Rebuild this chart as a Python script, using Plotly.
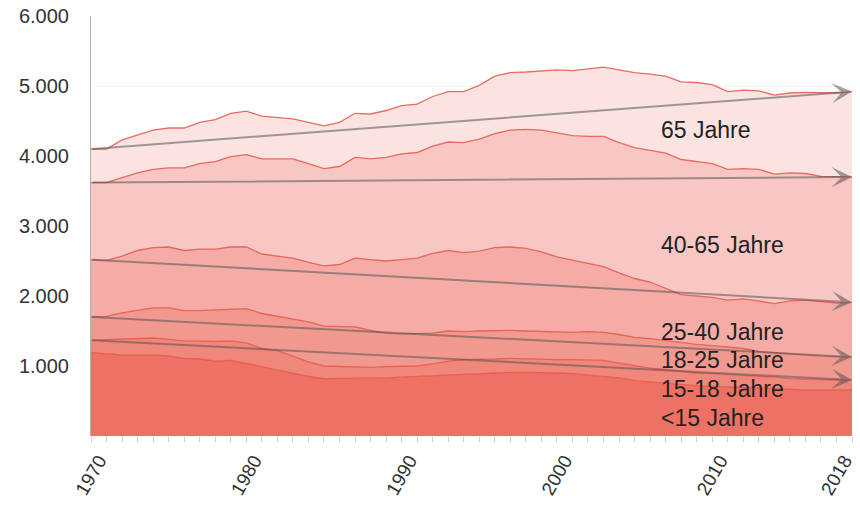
import plotly.graph_objects as go

# Years shown on the x axis (area runs to the right edge)
years = list(range(1970, 2020))

# Cumulative totals (stack tops) per age group
cum_u15 = [1190, 1170, 1160, 1160, 1160, 1140, 1110, 1100, 1070, 1080,
           1040, 990, 940, 890, 850, 820, 820, 820, 820, 830,
           840, 850, 860, 870, 890, 890, 900, 910, 910, 910,
           900, 890, 870, 860, 830, 790, 770, 750, 730, 720,
           710, 700, 690, 680, 670, 670, 660, 660, 660, 660]
cum_15_18 = [1370, 1380, 1380, 1400, 1400, 1380, 1360, 1360, 1350, 1360,
             1330, 1250, 1220, 1140, 1060, 1000, 990, 990, 980, 990,
             990, 1000, 1030, 1070, 1090, 1090, 1100, 1110, 1100, 1100,
             1090, 1090, 1090, 1080, 1040, 1000, 970, 950, 920, 900,
             890, 880, 860, 850, 840, 820, 810, 800, 800, 800]
cum_18_25 = [1700, 1710, 1760, 1800, 1830, 1830, 1790, 1790, 1800, 1820,
             1820, 1750, 1710, 1680, 1630, 1570, 1570, 1560, 1510, 1470,
             1460, 1460, 1470, 1500, 1490, 1500, 1510, 1510, 1500, 1490,
             1480, 1480, 1490, 1480, 1450, 1410, 1390, 1360, 1330, 1310,
             1290, 1270, 1250, 1210, 1190, 1170, 1160, 1140, 1130, 1130]
cum_25_40 = [2520, 2510, 2570, 2650, 2690, 2700, 2650, 2670, 2670, 2700,
             2700, 2600, 2570, 2540, 2480, 2430, 2450, 2540, 2520, 2500,
             2520, 2540, 2610, 2650, 2620, 2640, 2690, 2700, 2680, 2630,
             2560, 2510, 2470, 2420, 2330, 2250, 2200, 2110, 2020, 2000,
             1980, 1940, 1960, 1930, 1890, 1930, 1940, 1920, 1900, 1910]
cum_40_65 = [3620, 3620, 3690, 3760, 3810, 3830, 3830, 3890, 3920, 3990,
             4020, 3960, 3960, 3960, 3890, 3820, 3850, 3980, 3960, 3980,
             4030, 4050, 4140, 4200, 4190, 4240, 4320, 4370, 4380, 4370,
             4330, 4290, 4280, 4280, 4190, 4120, 4080, 4040, 3950, 3920,
             3890, 3810, 3820, 3810, 3740, 3760, 3750, 3710, 3700, 3700]
cum_65plus = [4100, 4100, 4230, 4300, 4370, 4400, 4400, 4480, 4520, 4610,
              4640, 4570, 4550, 4530, 4480, 4430, 4480, 4610, 4600, 4650,
              4720, 4740, 4850, 4920, 4920, 5010, 5140, 5190, 5200, 5220,
              5230, 5220, 5250, 5270, 5230, 5190, 5170, 5140, 5060, 5050,
              5020, 4920, 4940, 4930, 4870, 4900, 4910, 4900, 4900, 4920]

group_names = ["<15 Jahre", "15-18 Jahre", "18-25 Jahre", "25-40 Jahre", "40-65 Jahre", "65 Jahre"]
group_series = [cum_u15, cum_15_18, cum_18_25, cum_25_40, cum_40_65, cum_65plus]
fill_colors = ["#EE7263", "#F0877B", "#F2998F", "#F5ACA6", "#F8C7C4", "#FBE3E1"]
label_y = [262, 676, 1080, 1487, 2730, 4372]

y_tickvals = [1000, 2000, 3000, 4000, 5000, 6000]
y_ticktext = ["1.000", "2.000", "3.000", "4.000", "5.000", "6.000"]
x_tickvals = [1970, 1980, 1990, 2000, 2010, 2018]
x_ticktext = ["1970", "1980", "1990", "2000", "2010", "2018"]

fig = go.Figure()
for i, (name, vals, col) in enumerate(zip(group_names, group_series, fill_colors)):
    fig.add_trace(go.Scatter(
        x=years, y=vals, name=name, mode="lines",
        line=dict(color="rgba(230,85,72,0.85)", width=1.3),
        fill="tozeroy" if i == 0 else "tonexty",
        fillcolor=col, showlegend=False,
    ))

annotations = []
# trend arrows from first to last value of each group (except <15)
for vals in group_series[1:]:
    annotations.append(dict(
        x=years[-1], y=vals[-1], ax=years[0], ay=vals[0],
        xref="x", yref="y", axref="x", ayref="y",
        text="", showarrow=True, arrowhead=3, arrowsize=1.7,
        arrowwidth=2, arrowcolor="rgba(85,85,85,0.55)", standoff=0,
    ))
for name, yv in zip(group_names, label_y):
    annotations.append(dict(
        x=2006.6, y=yv, xref="x", yref="y", text=name, showarrow=False,
        xanchor="left", yanchor="middle",
        font=dict(family="Liberation Sans, Arial, sans-serif", size=23, color="#222222"),
    ))

fig.update_layout(
    width=860, height=512,
    margin=dict(l=91, r=8, t=16, b=76, autoexpand=False),
    paper_bgcolor="white", plot_bgcolor="white",
    annotations=annotations,
    font=dict(family="Liberation Sans, Arial, sans-serif", color="#333333"),
)
fig.update_xaxes(
    range=[1970, 2019], tickvals=x_tickvals, ticktext=x_ticktext,
    tickangle=-60, ticks="outside", ticklen=5, tickcolor="#cccccc",
    minor=dict(dtick=1, tick0=1970, ticks="outside", ticklen=5, tickcolor="#cccccc", showgrid=False),
    showgrid=False, zeroline=False, showline=False, automargin=False,
    tickfont=dict(size=19, color="#333333"), ticklabelshift=8,
    ticklabeloverflow="allow",
)
fig.update_yaxes(
    range=[0, 6000], tickvals=y_tickvals, ticktext=y_ticktext,
    showgrid=True, gridcolor="#f3f3f3", zeroline=False,
    showline=True, linecolor="#b0b0b0", linewidth=1, automargin=False,
    tickfont=dict(size=20, color="#333333"), ticklabelstandoff=17,
    ticklabeloverflow="allow",
)

# remove the browser's default page margin so the figure sits at the top-left corner
fig.write_html("out.html", config={"displayModeBar": False},
               post_script="document.body.style.margin='0';")
